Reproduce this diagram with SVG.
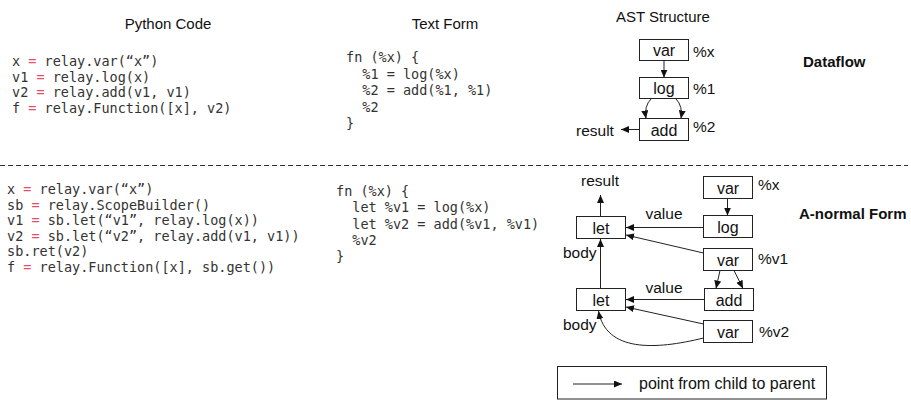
<svg xmlns="http://www.w3.org/2000/svg" width="911" height="400" viewBox="0 0 911 400">
<defs>
<style>
.title{font-family:"Liberation Sans",Arial,sans-serif;font-size:15px;fill:#111;text-anchor:middle}
.bold{font-family:"Liberation Sans",Arial,sans-serif;font-size:15px;font-weight:bold;fill:#111}
.code{font-family:"DejaVu Sans Mono","Liberation Mono",monospace;font-size:13.5px;fill:#333}
.eq{fill:#e0506a}
.lbl{font-family:"Liberation Sans",Arial,sans-serif;font-size:15.5px;fill:#111}
.nt{font-family:"Liberation Sans",Arial,sans-serif;font-size:16px;fill:#111;text-anchor:middle}
.box{fill:#fff;stroke:#222;stroke-width:1}
.edge{fill:none;stroke:#222;stroke-width:1;marker-end:url(#ah)}
</style>
<marker id="ah" markerWidth="8" markerHeight="7" refX="8" refY="3.5" orient="auto" markerUnits="userSpaceOnUse">
<path d="M0,0 L8,3.5 L0,7 z" fill="#111"/>
</marker>
</defs>

<g id="titles">
<text class="title" x="168" y="29">Python Code</text>
<text class="title" x="445" y="29">Text Form</text>
<text class="title" x="663" y="21.5">AST Structure</text>
<text class="bold" x="803" y="66.5">Dataflow</text>
<text class="bold" x="799" y="219">A-normal Form</text>
</g>

<g id="python-dataflow" class="code">
<text x="12" y="66">x <tspan class="eq">=</tspan> relay.var(“x”)</text>
<text x="12" y="81.6">v1 <tspan class="eq">=</tspan> relay.log(x)</text>
<text x="12" y="97.2">v2 <tspan class="eq">=</tspan> relay.add(v1, v1)</text>
<text x="12" y="112.8">f <tspan class="eq">=</tspan> relay.Function([x], v2)</text>
</g>

<g id="text-dataflow" class="code">
<text x="346" y="62">fn (%x) {</text>
<text x="362.3" y="78.5">%1 = log(%x)</text>
<text x="362.3" y="95">%2 = add(%1, %1)</text>
<text x="362.3" y="111.5">%2</text>
<text x="346" y="128">}</text>
</g>

<line id="separator" x1="0" y1="165.5" x2="908" y2="165.5" stroke="#333" stroke-width="1" stroke-dasharray="5,3"/>

<g id="python-anf" class="code">
<text x="7" y="194">x <tspan class="eq">=</tspan> relay.var(“x”)</text>
<text x="7" y="209.5">sb <tspan class="eq">=</tspan> relay.ScopeBuilder()</text>
<text x="7" y="225">v1 <tspan class="eq">=</tspan> sb.let(“v1”, relay.log(x))</text>
<text x="7" y="240.5">v2 <tspan class="eq">=</tspan> sb.let(“v2”, relay.add(v1, v1))</text>
<text x="7" y="256">sb.ret(v2)</text>
<text x="7" y="271.5">f <tspan class="eq">=</tspan> relay.Function([x], sb.get())</text>
</g>

<g id="text-anf" class="code">
<text x="336" y="196">fn (%x) {</text>
<text x="352.3" y="212.3">let %v1 = log(%x)</text>
<text x="352.3" y="228.6">let %v2 = add(%v1, %v1)</text>
<text x="352.3" y="245">%v2</text>
<text x="336" y="261">}</text>
</g>

<!-- Dataflow AST -->
<g id="df-var">
<rect class="box" x="639.5" y="39.5" width="49" height="21"/>
<text class="nt" x="664" y="56">var</text>
<text class="lbl" x="693" y="56.7">%x</text>
</g>
<g id="df-log">
<rect class="box" x="639.5" y="77.5" width="49" height="21"/>
<text class="nt" x="664" y="94">log</text>
<text class="lbl" x="693" y="94">%1</text>
</g>
<g id="df-add">
<rect class="box" x="639.5" y="118.5" width="49" height="22"/>
<text class="nt" x="664" y="135.5">add</text>
<text class="lbl" x="693" y="132">%2</text>
</g>
<g id="df-result">
<text class="lbl" x="576" y="135.5">result</text>
</g>

<!-- ANF AST -->
<g id="anf-let1">
<rect class="box" x="576.5" y="216.5" width="49" height="22"/>
<text class="nt" x="601" y="233.5">let</text>
</g>
<g id="anf-let2">
<rect class="box" x="576.5" y="288.5" width="49" height="22"/>
<text class="nt" x="601" y="305.5">let</text>
</g>
<g id="anf-varx">
<rect class="box" x="703.5" y="176.5" width="49" height="22"/>
<text class="nt" x="728" y="193.5">var</text>
<text class="lbl" x="758" y="190">%x</text>
</g>
<g id="anf-log">
<rect class="box" x="703.5" y="215.5" width="49" height="22"/>
<text class="nt" x="728" y="232.5">log</text>
</g>
<g id="anf-varv1">
<rect class="box" x="703.5" y="248.5" width="49" height="22"/>
<text class="nt" x="728" y="265.5">var</text>
<text class="lbl" x="758" y="264">%v1</text>
</g>
<g id="anf-add">
<rect class="box" x="704.5" y="288.5" width="49" height="22"/>
<text class="nt" x="729" y="305.5">add</text>
</g>
<g id="anf-varv2">
<rect class="box" x="703.5" y="320.5" width="49" height="22"/>
<text class="nt" x="728" y="337.5">var</text>
<text class="lbl" x="759" y="337">%v2</text>
</g>
<g id="anf-result">
<text class="lbl" x="600" y="186" text-anchor="middle">result</text>
</g>

<g id="connectors">
<!-- dataflow -->
<line class="edge" x1="664" y1="60.5" x2="664" y2="77.5"/>
<path class="edge" d="M651,99 Q644,106 646,118.5"/>
<path class="edge" d="M676,99 Q683,106 681,118.5"/>
<line class="edge" x1="639.5" y1="129.5" x2="621" y2="129.5"/>
<!-- anf -->
<line class="edge" x1="600.5" y1="216.5" x2="600.5" y2="195"/>
<line class="edge" x1="600.5" y1="288.5" x2="600.5" y2="239"/>
<line class="edge" x1="727.5" y1="198.5" x2="727.5" y2="215.5"/>
<line class="edge" x1="703.5" y1="227.5" x2="626" y2="227.5"/>
<line class="edge" x1="703.5" y1="253" x2="626" y2="235"/>
<line class="edge" x1="720" y1="270.5" x2="716" y2="288.5"/>
<line class="edge" x1="734" y1="270.5" x2="743" y2="288.5"/>
<line class="edge" x1="704.5" y1="299.5" x2="626" y2="299.5"/>
<line class="edge" x1="703.5" y1="324" x2="626" y2="307"/>
<path class="edge" d="M703.5,338 C655,350 606,352 598.5,311"/>
</g>

<g id="edge-labels">
<text class="lbl" x="664" y="219" text-anchor="middle">value</text>
<text class="lbl" x="664" y="293" text-anchor="middle">value</text>
<text class="lbl" x="563" y="258">body</text>
<text class="lbl" x="563" y="330">body</text>
</g>

<g id="legend">
<rect x="557.5" y="366.5" width="269" height="32.5" fill="#fff" stroke="#222" stroke-width="1"/>
<line class="edge" x1="573" y1="384" x2="622" y2="384"/>
<text class="lbl" x="639" y="389" style="font-size:16px">point from child to parent</text>
</g>
</svg>
